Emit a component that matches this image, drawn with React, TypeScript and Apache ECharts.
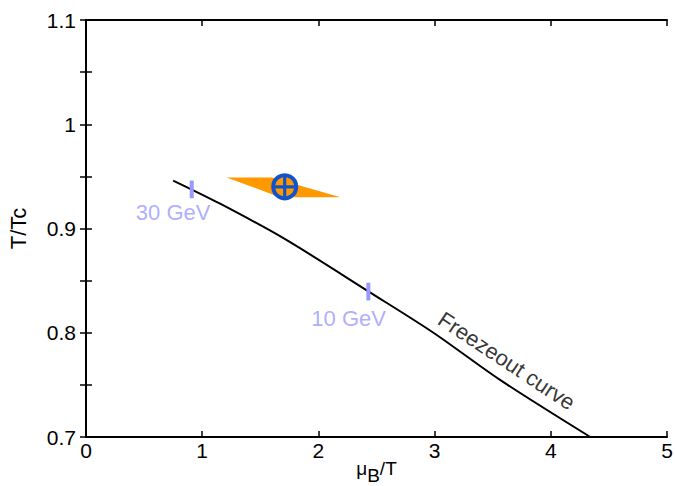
import React, { useEffect, useRef } from "react";
import * as echarts from "echarts";

const freezeoutCurve: [number, number][] = [
  [0.75, 0.946],
  [1.15, 0.924],
  [1.71, 0.89],
  [2.44, 0.839],
  [2.99, 0.8],
  [3.56, 0.755],
  [4.34, 0.7],
];

const orangeBand: [number, number][] = [
  [1.21, 0.949],
  [1.6, 0.949],
  [2.19, 0.93],
  [1.67, 0.93],
];

const criticalPoint: [number, number][] = [[1.71, 0.94]];

const energyTicks30: [number, number][] = [
  [0.91, 0.946],
  [0.91, 0.929],
];
const energyTicks10: [number, number][] = [
  [2.43, 0.848],
  [2.43, 0.831],
];

const energyLabels = [
  { name: "30 GeV", value: [0.75, 0.915] },
  { name: "10 GeV", value: [2.26, 0.814] },
];

const curveLabel = [{ name: "Freezeout curve", value: [3.62, 0.773] }];

const FONT = "Liberation Sans, Arial, sans-serif";

export default function App() {
  const ref = useRef<HTMLDivElement>(null);
  useEffect(() => {
    if (!ref.current) return;
    const chart = echarts.init(ref.current, undefined, { renderer: "svg" });
    const axisLine = { show: true, lineStyle: { color: "#000", width: 2 } };
    const tick = { show: true, inside: true, length: 6, lineStyle: { color: "#000", width: 1.5 } };
    const minorTick = { show: true, splitNumber: 2, length: 6, lineStyle: { color: "#000", width: 1.5 } };
    chart.setOption({
      animation: false,
      backgroundColor: "#fff",
      textStyle: { fontFamily: FONT },
      grid: { left: 86, right: 8, top: 20, bottom: 49, containLabel: false, outerBoundsMode: "none" },
      xAxis: [
        {
          type: "value",
          min: 0,
          max: 5,
          interval: 1,
          position: "bottom",
          axisLine,
          axisTick: tick,
          splitLine: { show: false },
          axisLabel: { color: "#000", fontSize: 21, margin: 3, fontFamily: FONT },
          name: "{a|μ}{b|B}{a|/T}",
          nameLocation: "middle",
          nameGap: 22,
          nameMoveOverlap: false,
          nameTextStyle: {
            verticalAlign: "top",
            rich: {
              a: { fontSize: 19, color: "#000", fontFamily: FONT, lineHeight: 22, verticalAlign: "top" },
              b: { fontSize: 19, color: "#000", fontFamily: FONT, lineHeight: 22, verticalAlign: "top", padding: [7, 0, 0, 0] },
            },
          },
        },
        {
          type: "value",
          min: 0,
          max: 5,
          interval: 1,
          position: "top",
          axisLine,
          axisTick: tick,
          splitLine: { show: false },
          axisLabel: { show: false },
        },
      ],
      yAxis: [
        {
          type: "value",
          min: 0.7,
          max: 1.1,
          interval: 0.1,
          position: "left",
          axisLine,
          axisTick: tick,
          minorTick,
          splitLine: { show: false },
          axisLabel: {
            color: "#000",
            fontSize: 21,
            margin: 10,
            fontFamily: FONT,
            formatter: (v: number) => String(Math.round(v * 10) / 10),
          },
          name: "T/Tc",
          nameLocation: "middle",
          nameGap: 57,
          nameMoveOverlap: false,
          nameTextStyle: { fontSize: 22, color: "#000", fontFamily: FONT },
        },
        {
          type: "value",
          min: 0.7,
          max: 1.1,
          interval: 0.1,
          position: "right",
          axisLine,
          axisTick: tick,
          minorTick,
          splitLine: { show: false },
          axisLabel: { show: false },
        },
      ],
      series: [
        {
          type: "custom",
          renderItem: (params: any, api: any) => {
            const pts = orangeBand.map((p) => api.coord(p));
            return {
              type: "polygon",
              shape: { points: pts },
              style: { fill: "#ff9900" },
            };
          },
          data: [0],
          z: 2,
        },
        {
          type: "line",
          data: freezeoutCurve,
          smooth: 0.3,
          symbol: "none",
          lineStyle: { color: "#000", width: 2 },
          z: 3,
        },
        {
          type: "line",
          data: energyTicks30,
          symbol: "none",
          lineStyle: { color: "#9999ff", width: 4 },
          z: 4,
        },
        {
          type: "line",
          data: energyTicks10,
          symbol: "none",
          lineStyle: { color: "#9999ff", width: 4 },
          z: 4,
        },
        {
          type: "scatter",
          data: energyLabels,
          symbolSize: 0,
          label: {
            show: true,
            position: "inside",
            formatter: (p: any) => p.name,
            color: "#9999ff",
            fontSize: 22,
            fontFamily: FONT,
          },
          z: 5,
        },
        {
          type: "scatter",
          data: curveLabel,
          symbolSize: 0,
          label: {
            show: true,
            position: "inside",
            formatter: (p: any) => p.name,
            color: "#000",
            fontSize: 22,
            rotate: -33.5,
            fontFamily: FONT,
          },
          z: 5,
        },
        {
          type: "scatter",
          data: criticalPoint,
          symbol: "circle",
          symbolSize: 23,
          itemStyle: { color: "#ff9900", borderColor: "#1253c9", borderWidth: 4, opacity: 1 },
          z: 6,
        },
        {
          type: "scatter",
          data: criticalPoint,
          symbol: "path://M0,8.4H20V11.6H0ZM8.4,0H11.6V20H8.4Z",
          symbolSize: 20,
          itemStyle: { color: "#1253c9", opacity: 1 },
          z: 7,
        },
      ],
    });
    return () => chart.dispose();
  }, []);
  return (
    <div
      ref={ref}
      style={{ position: "fixed", left: 0, top: 0, width: 675, height: 486, background: "#fff" }}
    />
  );
}
